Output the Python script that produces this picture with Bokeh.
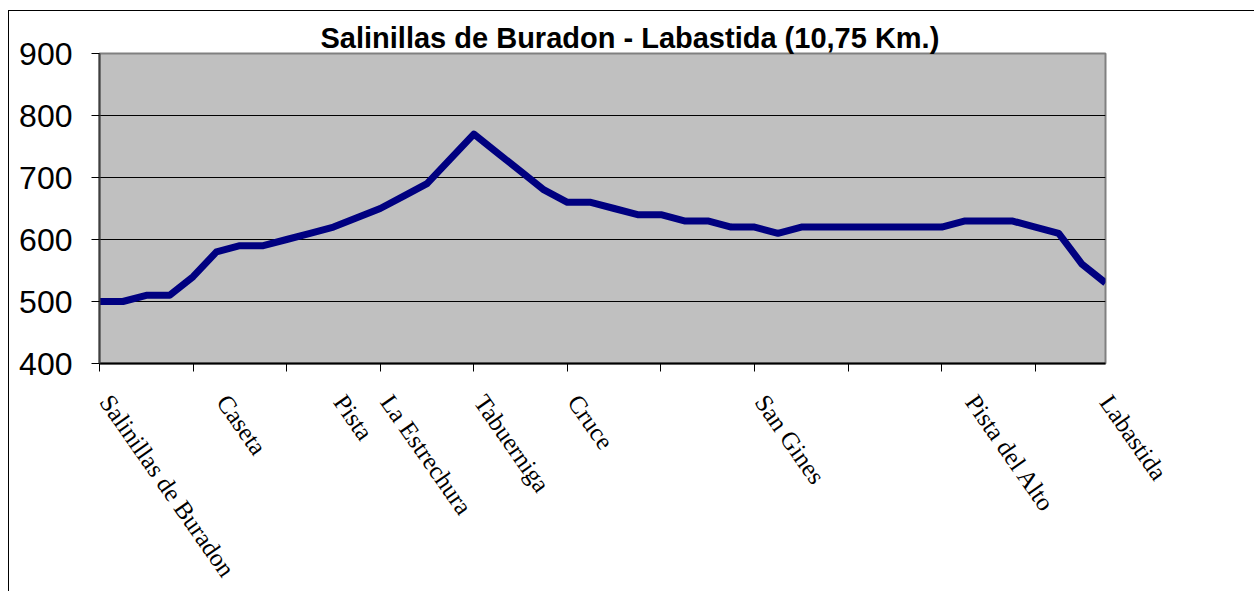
from bokeh.plotting import figure
from bokeh.models import Range1d, FixedTicker
from bokeh.embed import file_html
from bokeh.resources import INLINE

title_text = "Salinillas de Buradon - Labastida (10,75 Km.)"

categories = [
    "Salinillas de Buradon", "", "", "", "", "Caseta", "", "", "", "",
    "Pista", "", "La Estrechura", "", "", "", "Tabuerniga", "", "", "",
    "Cruce", "", "", "", "", "", "", "", "San Gines", "",
    "", "", "", "", "", "", "", "Pista del Alto", "", "",
    "", "", "", "Labastida",
]
elevation = [
    500, 500, 510, 510, 540, 580, 590, 590, 600, 610,
    620, 635, 650, 670, 690, 730, 770, 740, 710, 680,
    660, 660, 650, 640, 640, 630, 630, 620, 620, 610,
    620, 620, 620, 620, 620, 620, 620, 630, 630, 630,
    620, 610, 560, 530,
]
y_ticks = [400, 500, 600, 700, 800, 900]

n = len(elevation)
xs = list(range(n))

# rotated labels are anchored on their middle line; nudge the anchor a little
# to the right so the text starts at the category position (kept inside the range)
LABEL_NUDGE = 0.26
label_ticks = []
overrides = {}
for i, c in enumerate(categories):
    if c:
        t = min(i + LABEL_NUDGE, n - 1)
        label_ticks.append(t)
        overrides[t] = c

p = figure(width=1246, height=581, output_backend="svg", toolbar_location=None,
           x_range=Range1d(0, n - 1), y_range=Range1d(400, 900),
           min_border_left=90, min_border_right=150, min_border_top=42,
           min_border_bottom=227, title=title_text)

p.styles = {"margin-left": "8px", "margin-top": "10px",
            "border-top": "1px solid black", "border-left": "1px solid black"}

p.title.text_font = "Liberation Sans"
p.title.text_font_size = "29px"
p.title.text_font_style = "bold"
p.title.text_color = "black"
p.title.align = "left"
p.title.offset = 221
p.title.standoff = 0

p.background_fill_color = "#C0C0C0"
p.border_fill_color = "white"
p.outline_line_color = "#808080"
p.outline_line_width = 2

p.line(xs, elevation, line_color="#000080", line_width=7, line_join="round")

# y axis
p.yaxis.ticker = FixedTicker(ticks=y_ticks)
p.yaxis.major_label_text_font = "Liberation Sans"
p.yaxis.major_label_text_font_size = "32px"
p.yaxis.major_label_text_color = "black"
p.yaxis.major_tick_out = 8
p.yaxis.major_tick_in = 0
p.yaxis.minor_tick_line_color = None
p.yaxis.axis_line_color = "#404040"
p.yaxis.axis_line_width = 2
p.yaxis.major_tick_line_color = "black"
p.yaxis.major_label_standoff = 19

# x axis: tick marks every 4 categories, category names as rotated labels
p.xaxis.ticker = FixedTicker(ticks=label_ticks, minor_ticks=list(range(0, n, 4)))
p.xaxis.major_label_overrides = overrides
p.xaxis.major_tick_out = 0
p.xaxis.major_tick_in = 0
p.xaxis.minor_tick_out = 8
p.xaxis.minor_tick_in = 0
p.xaxis.minor_tick_line_color = "black"
p.xaxis.axis_line_color = "black"
p.xaxis.axis_line_width = 2
p.xaxis.major_label_orientation = -0.96
p.xaxis.major_label_text_font = "Liberation Serif"
p.xaxis.major_label_text_font_size = "25px"
p.xaxis.major_label_text_color = "black"
p.xaxis.major_label_standoff = 26

p.xgrid.grid_line_color = None
p.ygrid.ticker = FixedTicker(ticks=y_ticks)
p.ygrid.grid_line_color = "black"
p.ygrid.grid_line_width = 1

open("out.html", "w").write(file_html(p, INLINE))
